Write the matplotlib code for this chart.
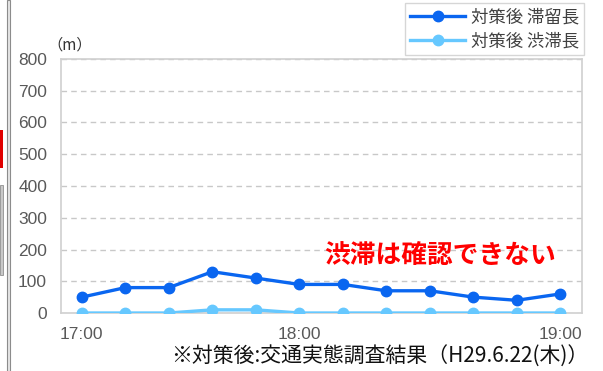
import numpy as np
import matplotlib.pyplot as plt
from matplotlib.patches import Rectangle

plt.rcParams['font.family'] = ['Noto Sans CJK JP', 'DejaVu Sans']

# 10-minute counts, 17:00 - 19:00
stay_len = [50, 80, 80, 130, 110, 90, 90, 70, 70, 50, 40, 60]
jam_len = [0, 0, 0, 10, 10, 0, 0, 0, 0, 0, 0, 0]
tick_pos = [0, 5, 11]
tick_labels = ['17:00', '18:00', '19:00']
y_ticks = [0, 100, 200, 300, 400, 500, 600, 700, 800]

fig = plt.figure(figsize=(6.03, 3.71), dpi=100)
ax = fig.add_axes([61 / 603, 1 - 313 / 371, 521 / 603, 254 / 371])

x = np.arange(len(stay_len))
ax.plot(x, stay_len, color='#0a66f0', lw=2.4, marker='o', ms=7.5,
        label='対策後 滞留長', zorder=4)
ax.plot(x, jam_len, color='#66c8ff', lw=2.4, marker='o', ms=7.5,
        label='対策後 渋滞長', zorder=3)

ax.set_xlim(-0.48, 11.5)
ax.set_ylim(0, 800)
ax.set_yticks(y_ticks)
ax.set_xticks(tick_pos)
ax.set_xticklabels(tick_labels)
ax.tick_params(length=0, labelsize=12.5, labelcolor='#595959')
ax.tick_params(axis='y', pad=10)
ax.tick_params(axis='x', pad=10)
for lab in ax.get_yticklabels() + ax.get_xticklabels():
    lab.set_family(['Liberation Sans'])
ax.grid(axis='y', ls=(0, (4, 3)), color='#c8c8c8', lw=1)
for s in ax.spines.values():
    s.set_color('#d0d0d0')
    s.set_linewidth(1.2)

fig.text(47 / 603, 1 - 45 / 371, '（m）', fontsize=11, color='#333333',
         ha='left', va='center')

ax.text(0.727, 0.228, '渋滞は確認できない', transform=ax.transAxes,
        color='#ff0000', fontsize=18.5, fontweight='bold', ha='center', va='center')

fig.text(380 / 603, 1 - 357 / 371,
         '※対策後:交通実態調査結果（H29.6.22(木)）', fontsize=15,
         color='#111111', ha='center', va='center')

leg = fig.legend(loc='upper right', bbox_to_anchor=(584 / 603, 1 - 3 / 371),
                 fontsize=12.5, frameon=True, fancybox=False, handlelength=3.2,
                 borderpad=0.3, labelspacing=0.35, handletextpad=0.3,
                 borderaxespad=0)
leg.get_frame().set_edgecolor('#cccccc')
leg.get_frame().set_linewidth(1)
for t in leg.get_texts():
    t.set_color('#404040')

# neighbouring page elements at the left edge
fig.add_artist(Rectangle((7 / 603, 0), 3 / 603, 1, transform=fig.transFigure,
                         facecolor='#e6e6e6', edgecolor='#8c8c8c', lw=0.8))
fig.add_artist(Rectangle((0, 1 - 168 / 371), 3 / 603, 38 / 371,
                         transform=fig.transFigure, facecolor='#e00000', lw=0))
fig.add_artist(Rectangle((0, 1 - 275 / 371), 2.5 / 603, 90 / 371,
                         transform=fig.transFigure, facecolor='#c8c8c8',
                         edgecolor='#909090', lw=0.6))

fig.savefig('out.png', dpi=100)
